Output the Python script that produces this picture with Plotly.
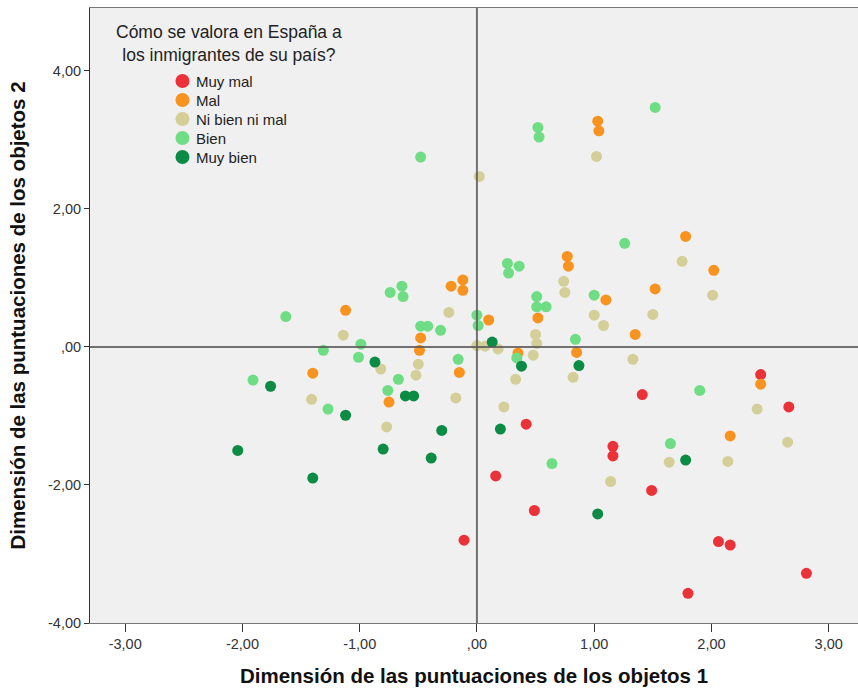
import plotly.graph_objects as go

# Object scores (dimension 1, dimension 2) grouped by the answer category
categories = ["Muy mal", "Mal", "Ni bien ni mal", "Bien", "Muy bien"]
colors = ["#ec3239", "#f8931f", "#d4cf98", "#6fdd84", "#0b8b44"]

muy_mal_x = [2.81, 1.80, 2.06, 2.16, 1.49, 1.16, 1.16, 1.41, 2.42, 2.66, 0.42, 0.16, 0.49, -0.11]
muy_mal_y = [-3.28, -3.57, -2.82, -2.87, -2.08, -1.44, -1.58, -0.69, -0.40, -0.87, -1.12, -1.87, -2.37, -2.80]

mal_x = [1.03, 1.04, 1.78, 0.77, 0.78, 2.02, 1.52, 1.10, 1.35, 2.42, 2.16, -0.22, -0.12, -0.12,
         0.10, 0.52, 0.85, 0.35, -0.15, -1.12, -0.48, -0.49, -1.40, -0.75]
mal_y = [3.27, 3.13, 1.60, 1.31, 1.17, 1.11, 0.84, 0.68, 0.18, -0.54, -1.29, 0.88, 0.97, 0.82,
         0.39, 0.42, -0.08, -0.09, -0.37, 0.53, 0.13, -0.05, -0.38, -0.80]

ni_x = [1.02, 0.02, 1.75, 2.01, 1.50, 1.08, 1.00, 1.33, 2.39, 2.65, 1.64, 2.14, 1.14, 0.74, 0.75, 0.50,
        0.51, 0.48, 0.00, 0.07, 0.18, 0.33, 0.82, -0.18, 0.23, -0.24, -1.14, -0.82, -0.50, -0.52, -1.41, -0.77]
ni_y = [2.76, 2.47, 1.24, 0.75, 0.47, 0.31, 0.46, -0.18, -0.90, -1.38, -1.67, -1.66, -1.95, 0.95, 0.79, 0.18,
        0.05, -0.12, 0.02, 0.01, -0.03, -0.47, -0.44, -0.74, -0.87, 0.50, 0.17, -0.32, -0.25, -0.41, -0.76, -1.16]

bien_x = [1.52, 0.52, 0.53, -0.48, 1.26, 0.26, 0.27, 0.36, 0.51, 0.51, 0.59, 1.00, 0.00, 0.01, 0.84, 0.34, -0.16,
          0.64, -1.63, -0.74, -0.64, -0.63, -0.48, -0.42, -0.31, -0.99, -1.01, -1.31, -1.91, -0.67, -0.76, -1.27,
          1.90, 1.65]
bien_y = [3.47, 3.18, 3.04, 2.75, 1.50, 1.21, 1.07, 1.17, 0.73, 0.58, 0.58, 0.75, 0.46, 0.31, 0.11, -0.16, -0.18,
          -1.69, 0.44, 0.79, 0.88, 0.73, 0.30, 0.30, 0.24, 0.04, -0.15, -0.05, -0.48, -0.47, -0.63, -0.90,
          -0.63, -1.40]

muy_bien_x = [-2.04, -1.40, -1.12, -0.80, -0.39, -0.30, 0.20, 1.03, -1.76, -0.87, -0.61, -0.54, 0.13, 0.38, 0.87, 1.78]
muy_bien_y = [-1.50, -1.90, -0.99, -1.48, -1.61, -1.21, -1.19, -2.42, -0.57, -0.22, -0.71, -0.71, 0.07, -0.28, -0.27, -1.64]

series_x = [muy_mal_x, mal_x, ni_x, bien_x, muy_bien_x]
series_y = [muy_mal_y, mal_y, ni_y, bien_y, muy_bien_y]

x_ticks = [-3, -2, -1, 0, 1, 2, 3]
x_ticktext = ["-3,00", "-2,00", "-1,00", ",00", "1,00", "2,00", "3,00"]
y_ticks = [-4, -2, 0, 2, 4]
y_ticktext = ["-4,00", "-2,00", ",00", "2,00", "4,00"]

legend_title = "Cómo se valora en España a<br>los inmigrantes de su país?"

FONT = "Liberation Sans, Arial, sans-serif"

fig = go.Figure()
for name, color, xs, ys in zip(categories, colors, series_x, series_y):
    fig.add_trace(go.Scatter(
        x=xs, y=ys, mode="markers", name=name, showlegend=False,
        marker=dict(color=color, size=11, line=dict(width=0)),
    ))

# Key drawn inside the plot area: centred two-line title, then one
# coloured dot and label per category
annotations = [dict(
    text=legend_title, xref="paper", yref="paper", x=0.181, y=0.9415,
    xanchor="center", yanchor="middle", showarrow=False, align="center",
    borderpad=0,
    font=dict(family=FONT, size=17.5, color="#222222"),
)]
shapes = []

key_dot_x = 0.1204
key_text_x = 0.1354
key_top = 0.8813
key_step = 0.0309
for i, (name, color) in enumerate(zip(categories, colors)):
    ky = key_top - i * key_step
    shapes.append(dict(
        type="circle", xref="paper", yref="paper",
        xsizemode="pixel", ysizemode="pixel",
        xanchor=key_dot_x, yanchor=ky,
        x0=-7, x1=7, y0=-7, y1=7,
        fillcolor=color, line=dict(width=0), layer="above",
    ))
    annotations.append(dict(
        text=name, xref="paper", yref="paper", x=key_text_x, y=ky,
        xanchor="left", yanchor="middle", showarrow=False,
        font=dict(family=FONT, size=15, color="#222222"),
    ))

# Reference lines through the origin, drawn over the points
shapes += [
    dict(type="line", xref="x", yref="paper", x0=0, x1=0, y0=0, y1=1,
         line=dict(color="rgba(90,90,90,0.85)", width=2), layer="above"),
    dict(type="line", xref="paper", yref="y", x0=0, x1=1, y0=0, y1=0,
         line=dict(color="rgba(90,90,90,0.85)", width=2), layer="above"),
]

axis_font = dict(family=FONT, size=14.5, color="#333333")
title_font = dict(family=FONT, size=20.5, color="#111111")

fig.update_layout(
    width=858, height=691,
    margin=dict(l=90, r=0, t=8, b=68),
    paper_bgcolor="white",
    plot_bgcolor="#f0f0f0",
    font=dict(family=FONT),
    showlegend=False,
    xaxis=dict(
        range=[-3.30, 3.25], tickvals=x_ticks, ticktext=x_ticktext,
        showgrid=False, zeroline=False,
        showline=True, linecolor="#777777", linewidth=1, mirror=True,
        ticks="outside", ticklen=8, tickcolor="#333333",
        tickfont=axis_font,
        title=dict(text="<b>Dimensión de las puntuaciones de los objetos 1</b>",
                   font=title_font, standoff=17),
    ),
    yaxis=dict(
        range=[-4.0, 4.91], tickvals=y_ticks, ticktext=y_ticktext,
        showgrid=False, zeroline=False,
        showline=True, linecolor="#333333", linewidth=1, mirror=True,
        ticks="outside", ticklen=5, tickcolor="#333333",
        tickfont=axis_font,
        title=dict(text="<b>Dimensión de las puntuaciones de los objetos 2</b>",
                   font=title_font, standoff=16),
    ),
    annotations=annotations,
    shapes=shapes,
)

fig.write_html("out.html")
